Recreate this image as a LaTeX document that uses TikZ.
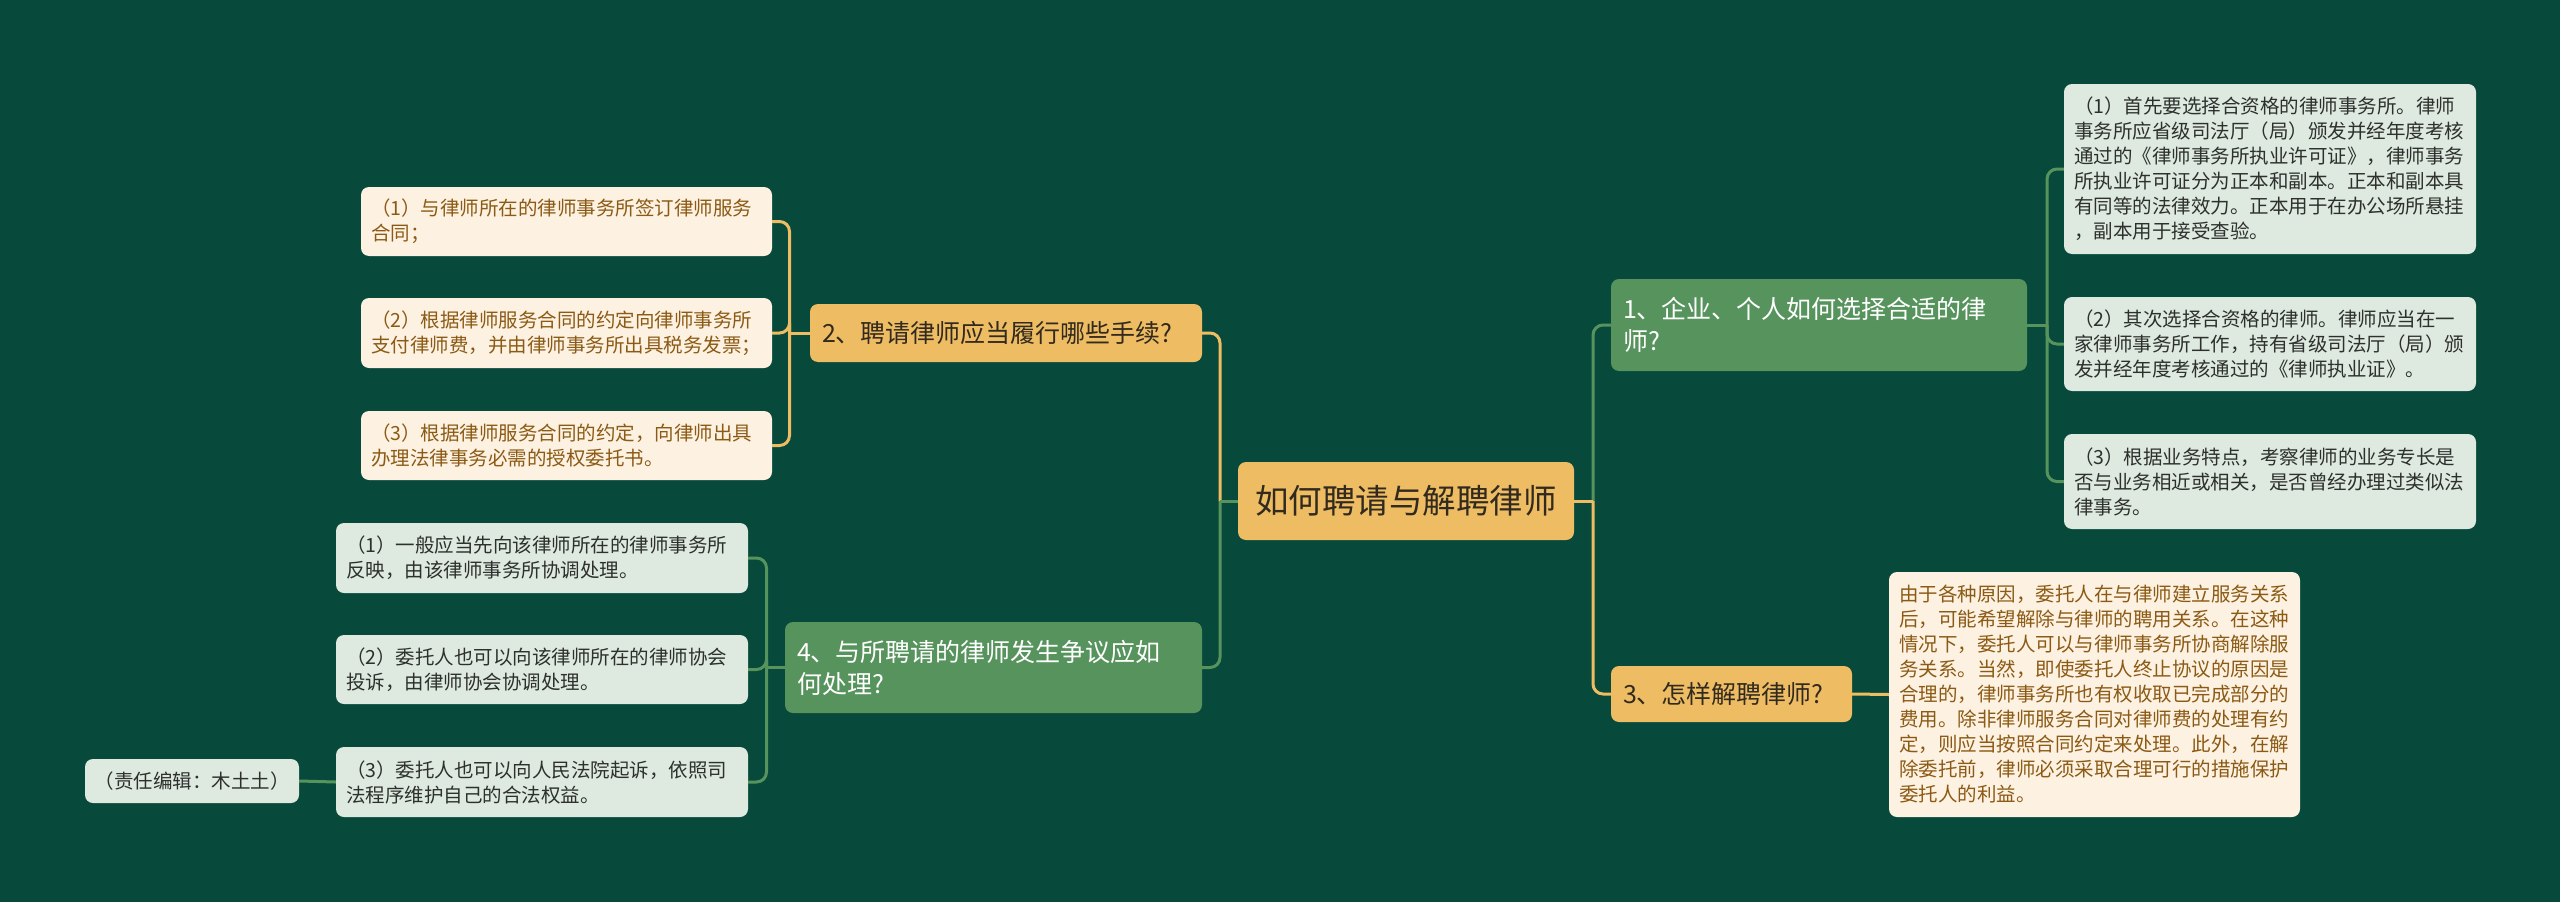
\documentclass[tikz,border=0pt]{standalone}
\usepackage{fontspec}
\setmainfont{Noto Sans CJK SC}
\definecolor{bg}{RGB}{7,73,58}
\definecolor{orng}{RGB}{238,189,99}
\definecolor{grn}{RGB}{87,148,93}
\definecolor{cream}{RGB}{253,241,226}
\definecolor{pale}{RGB}{222,233,224}
\definecolor{browntxt}{RGB}{139,90,20}
\definecolor{darktxt}{RGB}{45,48,45}
\definecolor{roottxt}{RGB}{50,42,30}
\tikzset{
  basebox/.style={rounded corners=8pt, inner ysep=0pt, anchor=center},
  leafbox/.style={basebox, inner xsep=10pt, align=left, font=\fontsize{19.5}{25}\selectfont},
  creambox/.style={leafbox, fill=cream, text=browntxt},
  palebox/.style={leafbox, fill=pale, text=darktxt},
  topicbox/.style={basebox, inner xsep=12pt, align=left, font=\fontsize{25}{32}\selectfont},
  orngtopic/.style={topicbox, fill=orng, text=roottxt},
  grntopic/.style={topicbox, fill=grn, text=white},
  conn/.style={line width=3pt, rounded corners=10pt},
  yline/.style={conn, draw=orng},
  gline/.style={conn, draw=grn}
}
\begin{document}
\begin{tikzpicture}[x=1pt,y=-1pt]
\path[fill=bg] (0,0) rectangle (2560,902);
\useasboundingbox (0,0) rectangle (2560,902);

% root
\node[basebox, fill=orng, text=roottxt, minimum width=336pt, minimum height=78pt, align=center,
      font=\fontsize{33.5}{40}\selectfont] (root) at (1406,501) {如何聘请与解聘律师};

% main topics
\node[orngtopic, text width=368pt, minimum height=58pt] (n2) at (1006,333) {2、聘请律师应当履行哪些手续?};
\node[grntopic, text width=393pt, minimum height=91pt] (n4) at (993.5,667.5) {4、与所聘请的律师发生争议应如\\何处理?};
\node[grntopic, text width=392pt, minimum height=92pt] (n1) at (1819,325) {1、企业、个人如何选择合适的律\\师?};
\node[orngtopic, text width=217pt, minimum height=56pt] (n3) at (1731.5,694) {3、怎样解聘律师?};

% children of n2
\node[creambox, text width=391pt, minimum height=69pt] (c21) at (566.5,221.5) {（1）与律师所在的律师事务所签订律师服务\\合同；};
\node[creambox, text width=391pt, minimum height=70pt] (c22) at (566.5,333) {（2）根据律师服务合同的约定向律师事务所\\支付律师费，并由律师事务所出具税务发票；};
\node[creambox, text width=391pt, minimum height=69pt] (c23) at (566.5,445.5) {（3）根据律师服务合同的约定，向律师出具\\办理法律事务必需的授权委托书。};

% children of n4
\node[palebox, text width=392pt, minimum height=70pt] (c41) at (542,558) {（1）一般应当先向该律师所在的律师事务所\\反映，由该律师事务所协调处理。};
\node[palebox, text width=392pt, minimum height=69pt] (c42) at (542,669.5) {（2）委托人也可以向该律师所在的律师协会\\投诉，由律师协会协调处理。};
\node[palebox, text width=392pt, minimum height=70pt] (c43) at (542,782) {（3）委托人也可以向人民法院起诉，依照司\\法程序维护自己的合法权益。};
\node[basebox, fill=pale, text=darktxt, minimum width=214pt, minimum height=44pt, align=center,
      font=\fontsize{19.5}{25}\selectfont] (note) at (192,781) {（责任编辑：木土土）};

% children of n1
\node[palebox, text width=392pt, minimum height=170pt] (c11) at (2270,169) {（1）首先要选择合资格的律师事务所。律师\\事务所应省级司法厅（局）颁发并经年度考核\\通过的《律师事务所执业许可证》，律师事务\\所执业许可证分为正本和副本。正本和副本具\\有同等的法律效力。正本用于在办公场所悬挂\\，副本用于接受查验。};
\node[palebox, text width=392pt, minimum height=94pt] (c12) at (2270,344) {（2）其次选择合资格的律师。律师应当在一\\家律师事务所工作，持有省级司法厅（局）颁\\发并经年度考核通过的《律师执业证》。};
\node[palebox, text width=392pt, minimum height=95pt] (c13) at (2270,481.5) {（3）根据业务特点，考察律师的业务专长是\\否与业务相近或相关，是否曾经办理过类似法\\律事务。};

% child of n3
\node[creambox, text width=391pt, minimum height=245pt] (c31) at (2094.5,694.5) {由于各种原因，委托人在与律师建立服务关系\\后，可能希望解除与律师的聘用关系。在这种\\情况下，委托人可以与律师事务所协商解除服\\务关系。当然，即使委托人终止协议的原因是\\合理的，律师事务所也有权收取已完成部分的\\费用。除非律师服务合同对律师费的处理有约\\定，则应当按照合同约定来处理。此外，在解\\除委托前，律师必须采取合理可行的措施保护\\委托人的利益。};

% branch points
\coordinate (bL) at (1220,501);
\coordinate (bR) at (1593,501);
\coordinate (b2) at (789.5,333);
\coordinate (b4) at (766.5,667.5);
\coordinate (b1) at (2047,325);

% connectors root
\draw[yline] (bL) |- (n2.east);
\draw[gline] (bL) |- (n4.east);
\draw[gline] (root.west) -- (bL);
\draw[gline] (bR) |- (n1.west);
\draw[yline] (bR) |- (n3.west);
\draw[yline] (root.east) -- (bR);

% n2 children
\draw[yline] (n2.west) -- (b2);
\draw[yline] (b2) |- (c21.east);
\draw[yline] (b2) |- (c22.east);
\draw[yline] (b2) |- (c23.east);

% n4 children
\draw[gline] (n4.west) -- (b4);
\draw[gline] (b4) |- (c41.east);
\draw[gline] (b4) |- (c42.east);
\draw[gline] (b4) |- (c43.east);
\draw[gline] (c43.west) -- (note.east);

% n1 children
\draw[gline] (n1.east) -- (b1);
\draw[gline] (b1) |- (c11.west);
\draw[gline] (b1) |- (c12.west);
\draw[gline] (b1) |- (c13.west);

% n3 child
\draw[yline] (n3.east) -- (c31.west);
\end{tikzpicture}
\end{document}
